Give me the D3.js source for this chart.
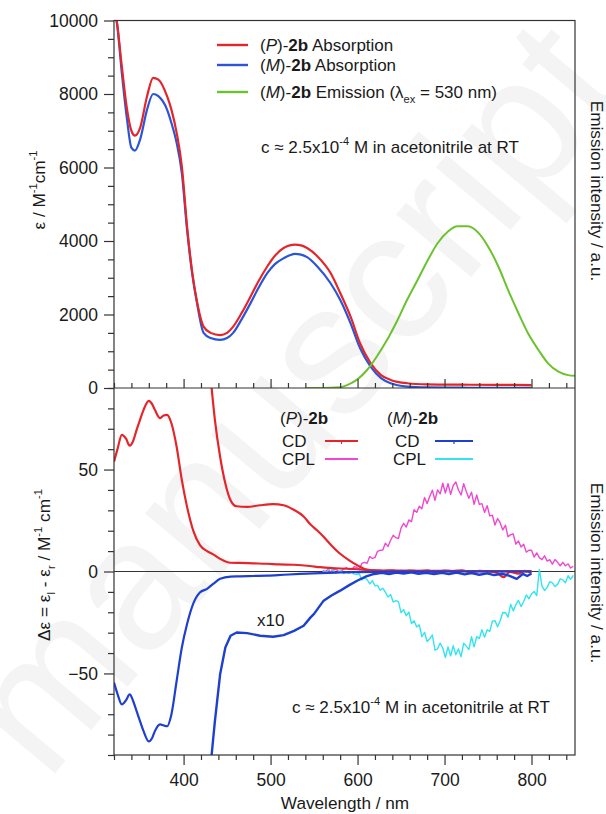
<!DOCTYPE html>
<html><head><meta charset="utf-8">
<script src="https://cdn.jsdelivr.net/npm/d3@7"></script>
<style>
body{margin:0;background:#fff}
svg{display:block}
text{font-family:"Liberation Sans",Arial,Helvetica,sans-serif;fill:#1a1a1a}
</style>
</head><body>
<svg id="c" width="606" height="814"></svg>
<script>
// ---------------- DATA ----------------
// top panel: absorption (epsilon / M^-1 cm^-1)
const absWl = [320,323,329,335,340,344,350,358,365,371,381,386,392,398,404,410,415,423,431,442,450,457,467,477,486,496,505,515,522,528,535,542,554,569,580,592,603,615,627,638,657,680,720,760,800];
const absP  = [10300,10000,8750,7580,7000,6870,7080,7940,8440,8390,7940,7575,6950,6030,4400,3130,2400,1670,1500,1440,1500,1670,2050,2490,2900,3300,3600,3810,3880,3900,3880,3810,3580,3130,2590,1940,1210,680,350,220,130,100,90,85,80];
const absM  = [10300,10000,8570,7300,6540,6460,6760,7575,8000,7940,7575,7210,6670,5850,4300,3100,2370,1500,1360,1310,1360,1500,1880,2310,2720,3120,3370,3530,3610,3650,3630,3560,3300,2850,2400,1760,1080,580,270,130,40,15,8,5,3];
// emission (a.u., plotted on the epsilon scale)
const emWl = [541,560,580,588,599,611,622,634,646,657,669,681,692,704,715,727,739,750,762,773,785,796,808,819,831,842,850];
const emM  = [0,0,20,80,220,490,850,1310,1850,2400,2940,3490,3940,4260,4400,4400,4220,3850,3300,2670,2035,1490,1035,670,445,350,330];

// bottom panel: CD (delta epsilon)
const cdP1Wl = [320,324,329,334,338,342,346,350,354,360,364,367,373,377,381,386,392,398,404,411,419,427,434,442,454,465,480,496,510,527,545,557,575,600,615,630,650,700,750,800];
const cdP1   = [53.8,60,67,65,61.7,64,69.5,74.5,79.3,83.7,82,79.3,75.2,76.5,76.8,72.7,61.2,44.8,31.7,20.2,12.8,10,8.4,6.2,4.3,4.2,4.0,3.8,3.5,3.3,2.7,2.1,1.6,1.1,0.7,0.5,0.4,0.3,0.2,0.2];
const cdM1Wl = [320,324,329,334,338,342,346,350,354,360,364,367,373,377,381,386,392,398,404,411,419,427,434,442,454,465,480,496,515,534,557,580,600,620,650,700,750,800];
const cdM1   = [-54.5,-60,-65.2,-63,-60.3,-63.5,-68.5,-73.5,-78.3,-83.3,-81.5,-78.3,-75,-75.5,-75.9,-70.1,-53.7,-37.3,-25.8,-15.9,-10.2,-8.5,-6.1,-3.6,-2.5,-2.4,-2.2,-2,-1.6,-1.2,-0.8,-0.5,-0.3,-0.2,-0.1,0,0,0];
// x10 traces
const cdP10Wl = [432,436,442,448,454,461,473,488,503,515,527,538,546,554,561,570,580,590,600,611,620,630,640,650,660,670,680,690,700,710,720,730,740,750,760,768,775,785,792,800];
const cdP10   = [91,74.4,56.3,43.2,35,32,31.7,32.5,33,32.5,30.2,27,23,20,17,12.8,8.7,5.6,3,0.8,0.4,0.2,0.6,-0.2,0.5,0.1,0.6,-0.3,0.4,0.2,0.6,-0.4,0.3,0.1,-0.6,-2.8,-0.2,-1.0,0.3,-0.6];
const cdM10Wl = [432,436,442,448,454,461,473,488,503,515,527,538,546,550,561,570,580,590,600,610,619,628,636,645,653,662,670,679,688,697,705,714,723,731,740,749,757,766,774,783,790,795,800];
const cdM10   = [-91,-73.4,-50.4,-37.3,-31.5,-29.9,-30.2,-31.5,-32,-31.2,-29.1,-26.6,-22.5,-20.8,-14.3,-11.8,-9.4,-6.8,-4.4,-2.4,-1.2,-0.6,-1.2,-0.5,-1.0,-0.4,-1.1,-0.6,-1.3,-0.7,-1.2,-0.5,-1.4,-0.8,-1.6,-0.9,-1.8,-1.1,-2.0,-3.6,-1.2,-2.2,-1.0];

// CPL (plotted on the delta-epsilon scale)
const cplWl = [560,563,566,569,572,575,578,581,584,587,590,593,596,599,602,605,608,611,614,617,620,623,626,629,632,635,638,641,644,647,650,653,656,659,662,665,668,671,674,677,680,683,686,689,692,695,698,701,704,707,710,713,716,719,722,725,728,731,734,737,740,743,746,749,752,755,758,761,764,767,770,773,776,779,782,785,788,791,794,797,800,803,806,809,812,815,818,821,824,827,830,833,836,839,842,845,848];
const cplP  = [0.5,0.0,1.0,-0.2,0.7,1.1,0.2,0.0,1.2,1.9,1.1,0.9,2.3,2.1,1.0,4.0,4.5,4.0,7.3,6.4,6.8,9.9,10.4,10.5,13.9,12.3,15.3,17.8,16.6,16.2,21.3,23.6,21.8,25.3,24.5,30.3,29.0,32.0,30.8,36.3,33.3,36.8,39.9,34.9,40.0,38.1,43.3,38.5,43.1,37.8,42.2,43.9,40.0,37.5,43.1,39.2,35.9,38.9,32.9,37.5,32.9,33.3,29.0,32.3,27.3,27.6,22.8,26.0,23.8,20.4,22.7,17.0,18.1,18.4,13.4,15.0,12.0,13.4,9.5,10.4,10.4,7.1,9.1,6.8,5.8,7.7,5.1,5.8,3.6,5.9,4.5,2.8,4.5,2.8,3.7,1.7,2.6];
const cplM  = [0.2,-0.4,0.2,2.0,0.2,-0.7,-0.2,0.3,-1.0,-0.3,-0.9,-0.1,-1.3,-1.4,-1.1,-4.2,-2.8,-4.0,-6.1,-4.5,-7.0,-6.8,-9.2,-8.2,-10.1,-12.5,-11.3,-15.0,-14.3,-14.8,-20.2,-18.7,-21.7,-19.9,-25.5,-24.2,-27.2,-26.2,-32.0,-29.8,-34.3,-33.0,-31.1,-38.6,-37.9,-35.1,-37.5,-42.2,-37.0,-41.4,-36.4,-40.8,-38.0,-41.8,-35.2,-36.6,-38.3,-32.0,-37.0,-31.9,-32.9,-28.6,-32.2,-28.6,-29.4,-24.4,-24.1,-27.1,-24.0,-20.1,-20.2,-22.4,-16.1,-19.3,-16.3,-14.2,-17.2,-14.7,-11.5,-13.4,-11.0,-9.8,-11.8,1.0,-7.2,-9.3,-7.8,-5.0,-5.6,-7.4,-6.3,-3.6,-4.1,-5.5,-2.1,-3.8,-1.9];

// ticks
const xMajor = [400,500,600,700,800];
const xMinor = [320,340,360,380,420,440,460,480,520,540,560,580,620,640,660,680,720,740,760,780,820,840];
const yTopMajor = [0,2000,4000,6000,8000,10000];
const yTopMinor = [500,1000,1500,2500,3000,3500,4500,5000,5500,6500,7000,7500,8500,9000,9500];
const yBotMajor = [-50,0,50];
const yBotMinor = [-90,-80,-70,-60,-40,-30,-20,-10,10,20,30,40,60,70,80,90];

// ---------------- LAYOUT ----------------
const L = 114, R = 575, T = 20.5, MID = 388, B = 755;
const C = {red:"#e4262b", blue:"#2b55d6", blueCD:"#1e40d0", green:"#6cc22e", mag:"#ef48cf", cyan:"#33e4ee", axis:"#333"};
const FONT_TICK = 17.5, FONT_LEG = 17, FONT_TITLE = 17.2;

const svg = d3.select("#c");
const x = d3.scaleLinear().domain([320, 850]).range([L, R]);
const yT = d3.scaleLinear().domain([0, 10000]).range([MID, T]);
const yB = d3.scaleLinear().domain([-90, 90]).range([B, MID]);

// watermark
svg.append("text").attr("transform","translate(300,405) rotate(-50)")
  .attr("text-anchor","middle").attr("dominant-baseline","middle")
  .style("font-size","185px").style("fill","#f4f4f4").text("manuscript");

const defs = svg.append("defs");
defs.append("clipPath").attr("id","clipT").append("rect").attr("x",L).attr("y",T).attr("width",R-L).attr("height",MID-T);
defs.append("clipPath").attr("id","clipB").append("rect").attr("x",L).attr("y",MID).attr("width",R-L).attr("height",B-MID);

// zero line bottom panel
svg.append("line").attr("x1",L).attr("x2",R).attr("y1",yB(0)).attr("y2",yB(0)).attr("stroke",C.axis).attr("stroke-width",1.2);

function draw(g, wl, vals, ys, color, w){
  const data = wl.map((d,i)=>[d, vals[i]]);
  g.append("path").datum(data)
    .attr("d", d3.line().x(d=>x(d[0])).y(d=>ys(d[1])).curve(d3.curveMonotoneX))
    .attr("fill","none").attr("stroke",color).attr("stroke-width",w).attr("stroke-linejoin","round");
}
function drawRaw(g, wl, vals, ys, color, w){
  const data = wl.map((d,i)=>[d, vals[i]]);
  g.append("path").datum(data)
    .attr("d", d3.line().x(d=>x(d[0])).y(d=>ys(d[1])))
    .attr("fill","none").attr("stroke",color).attr("stroke-width",w).attr("stroke-linejoin","round");
}

const gT = svg.append("g").attr("clip-path","url(#clipT)");
draw(gT, absWl, absM, yT, C.blue, 2.2);
draw(gT, absWl, absP, yT, C.red, 2.2);
draw(gT, emWl, emM, yT, C.green, 2);

const gB = svg.append("g").attr("clip-path","url(#clipB)");
drawRaw(gB, cplWl, cplP, yB, C.mag, 1.4);
drawRaw(gB, cplWl, cplM, yB, C.cyan, 1.4);
draw(gB, cdP1Wl, cdP1, yB, C.red, 2.2);
draw(gB, cdP10Wl, cdP10, yB, C.red, 2.2);
draw(gB, cdM1Wl, cdM1, yB, C.blueCD, 2.2);
drawRaw(gB, cdM10Wl, cdM10, yB, C.blueCD, 2.4);

// frame
svg.append("rect").attr("x",L).attr("y",T).attr("width",R-L).attr("height",B-T)
  .attr("fill","none").attr("stroke",C.axis).attr("stroke-width",1.2);
svg.append("line").attr("x1",L).attr("x2",R).attr("y1",MID).attr("y2",MID).attr("stroke",C.axis).attr("stroke-width",1.2);

function styleAxis(g){
  g.select(".domain").remove();
  g.selectAll(".tick line").attr("stroke",C.axis).attr("stroke-width",1.2);
  g.selectAll(".tick text").style("font-size",FONT_TICK+"px").attr("fill","#1a1a1a");
}
// y axes
svg.append("g").attr("transform",`translate(${L},0)`)
  .call(d3.axisLeft(yT).tickValues(yTopMajor).tickSize(10).tickPadding(6).tickFormat(d3.format("d"))).call(styleAxis);
svg.append("g").attr("transform",`translate(${L},0)`)
  .call(d3.axisLeft(yT).tickValues(yTopMinor).tickSize(6).tickFormat("")).call(styleAxis);
svg.append("g").attr("transform",`translate(${L},0)`)
  .call(d3.axisLeft(yB).tickValues(yBotMajor).tickSize(10).tickPadding(6).tickFormat(d3.format("d"))).call(styleAxis);
svg.append("g").attr("transform",`translate(${L},0)`)
  .call(d3.axisLeft(yB).tickValues(yBotMinor).tickSize(6).tickFormat("")).call(styleAxis);
// x axis between panels (ticks up)
svg.append("g").attr("transform",`translate(0,${MID})`)
  .call(d3.axisTop(x).tickValues(xMajor).tickSize(9).tickFormat("")).call(styleAxis);
svg.append("g").attr("transform",`translate(0,${MID})`)
  .call(d3.axisTop(x).tickValues(xMinor).tickSize(5).tickFormat("")).call(styleAxis);
// bottom x axis (ticks down)
svg.append("g").attr("transform",`translate(0,${B})`)
  .call(d3.axisBottom(x).tickValues(xMajor).tickSize(10).tickPadding(9).tickFormat(d3.format("d"))).call(styleAxis);
svg.append("g").attr("transform",`translate(0,${B})`)
  .call(d3.axisBottom(x).tickValues(xMinor).tickSize(5).tickFormat("")).call(styleAxis);

// rich text helper
function rich(parent, xx, yy, parts, size, attrs){
  const t = parent.append("text").attr("x",xx).attr("y",yy).style("font-size",size+"px");
  if(attrs) for(const k in attrs) t.attr(k, attrs[k]);
  let shift = 0;
  parts.forEach(p=>{
    const s = t.append("tspan").text(p.t);
    let target = 0;
    if(p.sup){ target = -0.45*size; s.style("font-size",(size*0.65)+"px"); }
    if(p.sub){ target = 0.3*size; s.style("font-size",(size*0.65)+"px"); }
    if(target!==shift){ s.attr("dy", target-shift); shift = target; }
    if(p.i) s.style("font-style","italic");
    if(p.b) s.style("font-weight","bold");
  });
  return t;
}

// axis titles
rich(svg, 0, 0, [{t:"ε  / M"},{t:"-1",sup:1},{t:"cm"},{t:"-1",sup:1}], FONT_TITLE,
  {transform:"translate(45,190) rotate(-90)","text-anchor":"middle"});
rich(svg, 0, 0, [{t:"Δε = ε"},{t:"l",sub:1},{t:" - ε"},{t:"r",sub:1},{t:"  / M"},{t:"-1",sup:1},{t:" cm"},{t:"-1",sup:1}], FONT_TITLE,
  {transform:"translate(50,565) rotate(-90)","text-anchor":"middle"});
svg.append("text").attr("transform","translate(591,191) rotate(90)").attr("text-anchor","middle")
  .style("font-size",FONT_TITLE+"px").text("Emission intensity / a.u.");
svg.append("text").attr("transform","translate(591,573) rotate(90)").attr("text-anchor","middle")
  .style("font-size",FONT_TITLE+"px").text("Emission intensity / a.u.");
svg.append("text").attr("x",345).attr("y",809).attr("text-anchor","middle")
  .style("font-size",FONT_TITLE+"px").text("Wavelength / nm");

// top legend
const legT = [
  {c:C.red, y:45, parts:[{t:"("},{t:"P",i:1},{t:")-"},{t:"2b",b:1},{t:" Absorption"}]},
  {c:C.blue, y:65, parts:[{t:"("},{t:"M",i:1},{t:")-"},{t:"2b",b:1},{t:" Absorption"}]},
  {c:C.green, y:92, parts:[{t:"("},{t:"M",i:1},{t:")-"},{t:"2b",b:1},{t:" Emission (λ"},{t:"ex",sub:1},{t:" = 530 nm)"}]}
];
legT.forEach(d=>{
  svg.append("line").attr("x1",217).attr("x2",248).attr("y1",d.y).attr("y2",d.y).attr("stroke",d.c).attr("stroke-width",2.4);
  rich(svg, 260, d.y+6, d.parts, FONT_LEG);
});
rich(svg, 261, 153, [{t:"c ≈ 2.5x10"},{t:"-4",sup:1},{t:" M in acetonitrile at RT"}], FONT_LEG);

// bottom legend
rich(svg, 280, 424, [{t:"("},{t:"P",i:1},{t:")-"},{t:"2b",b:1}], FONT_LEG);
rich(svg, 387, 424, [{t:"("},{t:"M",i:1},{t:")-"},{t:"2b",b:1}], FONT_LEG);
const legB = [
  {tx:282, t:"CD", y:441, x1:325, x2:358, c:C.red, tick:true},
  {tx:282, t:"CPL", y:459, x1:325, x2:358, c:C.mag},
  {tx:395, t:"CD", y:441, x1:435, x2:473, c:C.blueCD, tick:true},
  {tx:393, t:"CPL", y:459, x1:435, x2:473, c:C.cyan}
];
legB.forEach(d=>{
  svg.append("text").attr("x",d.tx).attr("y",d.y+6).style("font-size",FONT_LEG+"px").text(d.t);
  svg.append("line").attr("x1",d.x1).attr("x2",d.x2).attr("y1",d.y).attr("y2",d.y).attr("stroke",d.c).attr("stroke-width",2.2);
  if(d.tick){ const m=(d.x1+d.x2)/2;
    svg.append("line").attr("x1",m).attr("x2",m).attr("y1",d.y).attr("y2",d.y+3).attr("stroke",d.c).attr("stroke-width",1.2); }
});
svg.append("text").attr("x",257).attr("y",626).style("font-size",FONT_LEG+"px").text("x10");
rich(svg, 292, 713, [{t:"c ≈ 2.5x10"},{t:"-4",sup:1},{t:" M in acetonitrile at RT"}], FONT_LEG);
</script>
</body></html>
